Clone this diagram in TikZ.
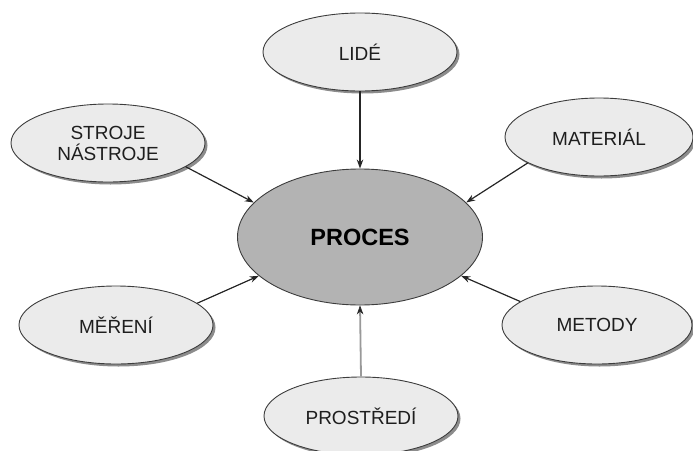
\documentclass[tikz,border=0pt]{standalone}
\usepackage{fontspec}
\setmainfont{Liberation Sans}
\usetikzlibrary{shapes.geometric,shadows,arrows.meta}
\definecolor{outfill}{HTML}{EBEBEB}
\definecolor{midfill}{HTML}{B3B3B3}
\definecolor{edge}{HTML}{3C3C3C}
\definecolor{txt}{HTML}{1E1E1E}
\tikzset{
  factor/.style={ellipse, draw=edge, line width=0.9pt, fill=outfill,
    minimum width=194pt, minimum height=78pt, inner sep=0pt,
    text=txt, font=\fontsize{19}{21}\selectfont, align=center,
    drop shadow={shadow xshift=2.5pt, shadow yshift=-2.5pt, fill=black!45, opacity=1}},
  core/.style={ellipse, draw=edge, line width=0.9pt, fill=midfill,
    minimum width=245pt, minimum height=136pt, inner sep=0pt,
    text=black, font=\fontsize{23.5}{26}\selectfont\bfseries},
  link/.style={line width=1.2pt, draw=black!85, -{Stealth[length=9pt,width=6.5pt]}},
  glink/.style={line width=1.8pt, draw=black!40, -{Stealth[length=9pt,width=6.5pt,color=black!85,line width=0.6pt]}}
}
\begin{document}
\begin{tikzpicture}[x=1pt,y=-1pt]
\useasboundingbox (0,0) rectangle (693,450);
\node[core] (p) at (360,237) {PROCES};
\node[factor] (l) at (360,52) {LIDÉ};
\node[factor] (s) at (108,143) {STROJE\\NÁSTROJE};
\node[factor, minimum width=188pt] (m) at (599,137) {MATERIÁL};
\node[factor] (me) at (116,325) {MĚŘENÍ};
\node[factor, minimum width=190pt] (mt) at (597,325) {METODY};
\node[factor] (pr) at (361,416) {PROSTŘEDÍ};
\draw[link] (l.south) -- (p.north);
\draw[link] (s.-17) -- (p.162);
\draw[link] (m.200) -- (p.18);
\draw[link] (me.15) -- (p.201);
\draw[link] (mt.163) -- (p.-21);
\draw[glink] (pr.north) -- (p.south);
\end{tikzpicture}
\end{document}
